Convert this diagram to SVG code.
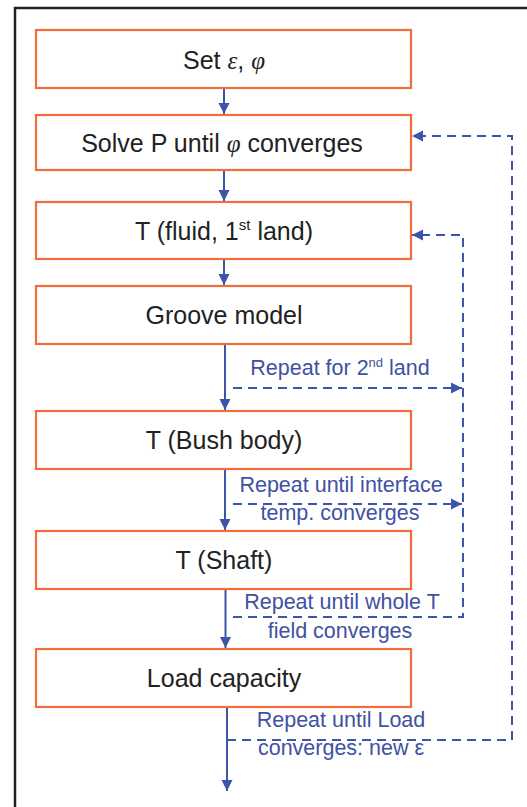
<svg xmlns="http://www.w3.org/2000/svg" width="527" height="807" viewBox="0 0 527 807">
<style>
.box{fill:#fff;stroke:#F26D3D;stroke-width:2.2}
.t{font-family:"Liberation Sans",Arial,sans-serif;font-size:25px;fill:#222;text-anchor:middle}
.m{font-family:"Liberation Serif","Times New Roman",serif;font-style:italic}
.lbl{font-family:"Liberation Sans",Arial,sans-serif;font-size:21.5px;fill:#3F51A3;text-anchor:middle}
.flow{stroke:#3B55A9;stroke-width:2;fill:none}
.dash{stroke:#3B55A9;stroke-width:2;fill:none;stroke-dasharray:9 6}
</style>
<defs>
<marker id="ah" markerWidth="12" markerHeight="12" refX="11" refY="6" orient="auto" markerUnits="userSpaceOnUse">
<path d="M0,0.5 L11,6 L0,11.5 Z" fill="#3B55A9"/>
</marker>
</defs>
<rect x="15" y="8" width="600" height="900" fill="#fff" stroke="#222" stroke-width="2.5"/>
<g id="connectors">
<line class="flow" x1="224" y1="88" x2="224" y2="114" marker-end="url(#ah)"/>
<line class="flow" x1="224" y1="170" x2="224" y2="201" marker-end="url(#ah)"/>
<line class="flow" x1="224" y1="259" x2="224" y2="285" marker-end="url(#ah)"/>
<line class="flow" x1="225" y1="344" x2="225" y2="410" marker-end="url(#ah)"/>
<line class="flow" x1="225" y1="469" x2="225" y2="530" marker-end="url(#ah)"/>
<line class="flow" x1="225.5" y1="589" x2="225.5" y2="648" marker-end="url(#ah)"/>
<line class="flow" x1="227" y1="707" x2="227" y2="791" marker-end="url(#ah)"/>
<path class="dash" d="M227,740 H512 V136 H412" marker-end="url(#ah)"/>
<path class="dash" d="M233,617 H463 V235 H412" marker-end="url(#ah)"/>
<path class="dash" d="M233,388 H462" marker-end="url(#ah)"/>
<path class="dash" d="M233,504 H462" marker-end="url(#ah)"/>
</g>
<g id="n1"><rect class="box" x="36" y="30" width="375" height="58"/><text class="t" x="224" y="69">Set <tspan class="m">ε</tspan>, <tspan class="m">φ</tspan></text></g>
<g id="n2"><rect class="box" x="36" y="115" width="375" height="55"/><text class="t" x="222" y="152">Solve P until <tspan class="m">φ</tspan> converges</text></g>
<g id="n3"><rect class="box" x="36" y="202" width="375" height="57"/><text class="t" x="224" y="240">T (fluid, 1<tspan font-size="15" dy="-10">st</tspan><tspan dy="10"> land)</tspan></text></g>
<g id="n4"><rect class="box" x="36" y="286" width="375" height="58"/><text class="t" x="224" y="324">Groove model</text></g>
<g id="n5"><rect class="box" x="36" y="411" width="375" height="58"/><text class="t" x="224" y="449">T (Bush body)</text></g>
<g id="n6"><rect class="box" x="36" y="531" width="375" height="58"/><text class="t" x="224" y="569">T (Shaft)</text></g>
<g id="n7"><rect class="box" x="36" y="649" width="375" height="58"/><text class="t" x="224" y="687">Load capacity</text></g>
<g id="labels">
<text class="lbl" x="340" y="375">Repeat for 2<tspan font-size="13" dy="-8">nd</tspan><tspan dy="8"> land</tspan></text>
<text class="lbl" x="341" y="492">Repeat until interface</text>
<text class="lbl" x="340" y="520">temp. converges</text>
<text class="lbl" x="342" y="609">Repeat until whole T</text>
<text class="lbl" x="340" y="638">field converges</text>
<text class="lbl" x="341" y="727">Repeat until Load</text>
<text class="lbl" x="341" y="755">converges: new ε</text>
</g>
</svg>
